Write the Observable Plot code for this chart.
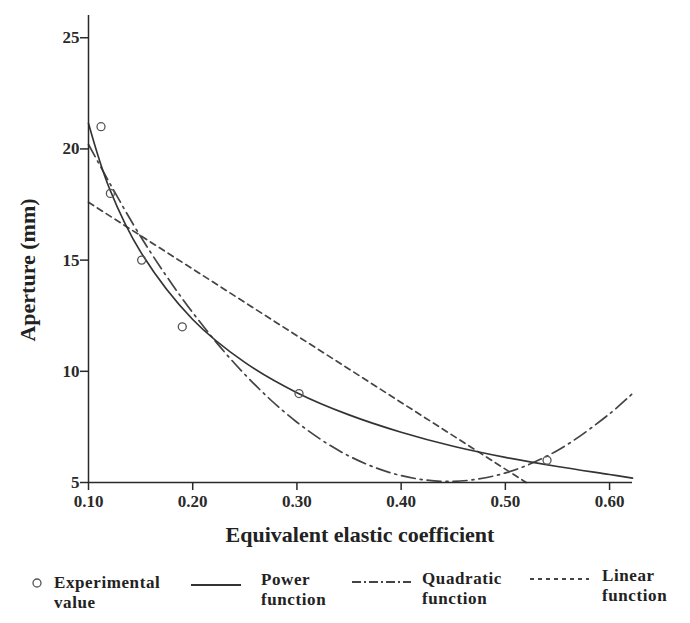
<!DOCTYPE html>
<html><head><meta charset="utf-8">
<script src="https://cdn.jsdelivr.net/npm/d3@7"></script>
<script src="https://cdn.jsdelivr.net/npm/@observablehq/plot@0.6"></script>
<style>
body{margin:0;background:#fff;}
#wrap{position:relative;width:690px;height:623px;font-family:"Liberation Serif","Times New Roman",serif;font-weight:bold;color:#222;overflow:hidden;}
#chart{position:absolute;left:0;top:0;}
.xt{position:absolute;left:88px;width:544px;top:521px;text-align:center;font-size:22px;line-height:28px;}
.yt{position:absolute;left:28px;top:270px;transform:translate(-50%,-50%) rotate(-90deg);font-size:22px;white-space:nowrap;line-height:28px;}
.leg{position:absolute;font-size:17px;line-height:20px;letter-spacing:0.6px;white-space:nowrap;}
#legsvg{position:absolute;left:0;top:560px;}
</style>
</head>
<body>
<div id="wrap">
  <div id="chart"></div>
  <div class="yt">Aperture (mm)</div>
  <div class="xt">Equivalent elastic coefficient</div>
  <svg id="legsvg" width="690" height="63"></svg>
  <div class="leg" style="left:54px;top:573px;">Experimental<br>value</div>
  <div class="leg" style="left:261px;top:570px;">Power<br>function</div>
  <div class="leg" style="left:422px;top:569px;">Quadratic<br>function</div>
  <div class="leg" style="left:602px;top:566px;">Linear<br>function</div>
</div>
<script>
// Experimental values
const expX = [0.112, 0.121, 0.151, 0.190, 0.302, 0.540];
const expY = [21, 18, 15, 12, 9, 6];
// Power function curve
const powerX = [0.10, 0.12, 0.15, 0.20, 0.25, 0.30, 0.35, 0.40, 0.45, 0.50, 0.55, 0.60, 0.622];
const powerY = [21.15, 18.23, 15.37, 12.33, 10.40, 9.04, 8.04, 7.26, 6.63, 6.13, 5.72, 5.36, 5.2];
// Quadratic function curve
const quadX = [0.10, 0.15, 0.20, 0.25, 0.30, 0.35, 0.40, 0.45, 0.50, 0.55, 0.60, 0.622];
const quadY = [20.2, 16.06, 12.64, 9.86, 7.71, 6.19, 5.31, 5.05, 5.43, 6.44, 8.09, 9.0];
// Linear function
const linX = [0.10, 0.52];
const linY = [17.6, 5.0];
// Tick labels
const xTicks = [0.10, 0.20, 0.30, 0.40, 0.50, 0.60];
const yTicks = [5, 10, 15, 20, 25];

const toPts = (xs, ys) => xs.map((x, i) => ({x, y: ys[i]}));
const exp = toPts(expX, expY);
const power = toPts(powerX, powerY);
const quad = toPts(quadX, quadY);
const lin = toPts(linX, linY);

const ink = "#2a2a2a";
const chart = Plot.plot({
  width: 690, height: 560,
  marginLeft: 88, marginRight: 58, marginTop: 15, marginBottom: 78,
  style: {fontFamily: '"Liberation Serif","Times New Roman",serif', fontWeight: "bold", background: "#fff", color: ink},
  x: {domain: [0.1, 0.622]},
  y: {domain: [5, 26]},
  marks: [
    Plot.axisY({ticks: yTicks, tickSize: 8, tickPadding: 1, fontSize: 17, label: null, stroke: ink, strokeWidth: 1.5, fill: ink}),
    Plot.axisX({ticks: xTicks, tickFormat: d3.format(".2f"), tickSize: 8, tickPadding: 4, fontSize: 17, label: null, stroke: ink, strokeWidth: 1.5, fill: ink}),
    Plot.line(lin, {x: "x", y: "y", stroke: "#444", strokeWidth: 1.7, strokeDasharray: "6,4.5"}),
    Plot.line(quad, {x: "x", y: "y", curve: "catmull-rom", stroke: "#444", strokeWidth: 1.7, strokeDasharray: "14,5,2,5"}),
    Plot.line(power, {x: "x", y: "y", curve: "catmull-rom", stroke: "#333", strokeWidth: 1.7}),
    Plot.dot(exp, {x: "x", y: "y", r: 4, stroke: "#555", strokeWidth: 1.3, fill: "none"}),
    Plot.ruleX([0.1], {stroke: ink, strokeWidth: 1.5}),
    Plot.ruleY([5], {stroke: ink, strokeWidth: 1.5})
  ]
});
document.getElementById("chart").appendChild(chart);

// legend samples
const ls = d3.select("#legsvg");
ls.append("circle").attr("cx", 37).attr("cy", 23).attr("r", 4).attr("fill", "none").attr("stroke", "#555").attr("stroke-width", 1.3);
ls.append("line").attr("x1", 191).attr("x2", 241).attr("y1", 25).attr("y2", 25).attr("stroke", "#333").attr("stroke-width", 2);
ls.append("line").attr("x1", 352).attr("x2", 411).attr("y1", 22).attr("y2", 22).attr("stroke", "#444").attr("stroke-width", 2).attr("stroke-dasharray", "9,3,2,3");
ls.append("line").attr("x1", 530).attr("x2", 589).attr("y1", 19).attr("y2", 19).attr("stroke", "#444").attr("stroke-width", 2).attr("stroke-dasharray", "4,4");
</script>
</body></html>
